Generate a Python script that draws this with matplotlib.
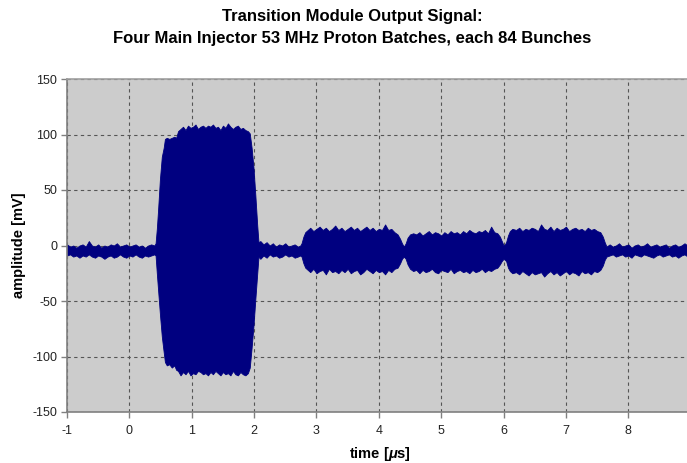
from matplotlib import pyplot as plt
import numpy as np

plt.rcParams['font.family'] = ['Liberation Sans', 'DejaVu Sans']
plt.rcParams['mathtext.fontset'] = 'custom'
plt.rcParams['mathtext.it'] = 'Liberation Sans:italic:bold'
plt.rcParams['mathtext.rm'] = 'Liberation Sans:bold'
plt.rcParams['axes.unicode_minus'] = False

# envelope of the scope trace (time in us, amplitude in mV)
# baseline before first batch
t_pre = [-1.00, -0.95, -0.90, -0.85, -0.80, -0.75, -0.70, -0.65, -0.60, -0.55, -0.50, -0.45, -0.40, -0.35,
         -0.30, -0.25, -0.20, -0.15, -0.10, -0.05, 0.00, 0.05, 0.10, 0.15, 0.20, 0.25, 0.30, 0.35, 0.40]
up_pre = [1, -1, 0, -2, 0, 1, -1, 4, 0, -1, 1, -2, 0, -1, 1, 0, 2, -1, 0, 1, -1, 0, 1, -1, 0, -2, 0, 1, 0]
lo_pre = [-9, -8, -10, -9, -11, -9, -10, -8, -10, -11, -9, -10, -12, -10, -9, -11, -10, -8, -10, -11, -9,
          -10, -8, -10, -11, -9, -10, -9, -8]

# batch 1 (large)
t_b1 = [0.42, 0.44, 0.46, 0.49, 0.52, 0.55, 0.57, 0.60, 0.64, 0.68, 0.72, 0.75, 0.78, 0.82, 0.86, 0.90,
        0.94, 0.98, 1.02, 1.06, 1.10, 1.14, 1.18, 1.22, 1.26, 1.30, 1.34, 1.38, 1.42, 1.46, 1.50, 1.54,
        1.58, 1.62, 1.66, 1.70, 1.74, 1.78, 1.82, 1.86, 1.90, 1.93, 1.96, 1.99, 2.02, 2.05, 2.07]
up_b1 = [2, 15, 32, 60, 80, 88, 96, 97, 96, 97, 98, 97, 103, 105, 107, 104, 108, 106, 107, 109, 105, 107,
         108, 106, 108, 107, 109, 106, 107, 104, 108, 106, 110, 107, 105, 107, 108, 105, 106, 104, 103, 101,
         88, 70, 45, 18, 3]
lo_b1 = [-9, -25, -40, -62, -82, -96, -105, -108, -107, -110, -108, -112, -113, -117, -114, -116, -113,
         -117, -115, -116, -113, -114, -116, -115, -117, -114, -116, -113, -115, -117, -114, -116, -115,
         -117, -113, -116, -117, -114, -116, -117, -115, -110, -92, -72, -48, -25, -10]

# baseline between batch 1 and 2
t_mid = [2.10, 2.15, 2.20, 2.25, 2.30, 2.35, 2.40, 2.45, 2.50, 2.55, 2.60, 2.65, 2.70, 2.74]
up_mid = [4, 1, 3, 0, 2, -1, 1, 0, 2, -1, 0, 1, -1, 0]
lo_mid = [-12, -9, -11, -8, -10, -9, -11, -10, -8, -10, -9, -11, -10, -9]

# batch 2
t_b2 = [2.76, 2.79, 2.82, 2.86, 2.90, 2.95, 3.00, 3.05, 3.10, 3.15, 3.20, 3.25, 3.30, 3.35, 3.40, 3.45,
        3.50, 3.55, 3.60, 3.65, 3.70, 3.75, 3.80, 3.85, 3.90, 3.95, 4.00, 4.05, 4.10, 4.15, 4.20, 4.25,
        4.30, 4.34, 4.37, 4.40]
up_b2 = [2, 8, 12, 14, 16, 13, 15, 17, 14, 16, 13, 15, 18, 14, 16, 13, 15, 17, 14, 16, 13, 15, 17, 14,
         16, 13, 15, 14, 19, 14, 15, 12, 10, 6, 2, -1]
lo_b2 = [-10, -16, -20, -22, -24, -21, -25, -23, -22, -26, -21, -24, -23, -25, -22, -24, -21, -25, -23,
         -22, -26, -24, -21, -23, -25, -22, -24, -23, -26, -22, -24, -21, -20, -16, -12, -10]

# batch 3
t_b3 = [4.43, 4.46, 4.50, 4.55, 4.60, 4.65, 4.70, 4.75, 4.80, 4.85, 4.90, 4.95, 5.00, 5.05, 5.10, 5.15,
        5.20, 5.25, 5.30, 5.35, 5.40, 5.45, 5.50, 5.55, 5.60, 5.65, 5.70, 5.75, 5.80, 5.85, 5.90, 5.94,
        5.97, 6.00, 6.02]
up_b3 = [2, 7, 10, 11, 10, 12, 9, 11, 13, 10, 12, 11, 9, 12, 10, 13, 11, 12, 10, 13, 11, 14, 12, 11, 13,
         12, 14, 11, 17, 12, 11, 8, 4, 0, 1]
lo_b3 = [-12, -17, -21, -23, -22, -25, -22, -24, -23, -21, -24, -25, -22, -23, -24, -21, -25, -23, -22,
         -24, -23, -25, -22, -24, -23, -21, -24, -22, -23, -21, -20, -17, -14, -12, -13]

# batch 4
t_b4 = [6.04, 6.07, 6.10, 6.14, 6.20, 6.25, 6.30, 6.35, 6.40, 6.45, 6.50, 6.55, 6.60, 6.65, 6.70, 6.75,
        6.80, 6.85, 6.90, 6.95, 7.00, 7.05, 7.10, 7.15, 7.20, 7.25, 7.30, 7.35, 7.40, 7.45, 7.50, 7.55,
        7.59, 7.62, 7.65]
up_b4 = [3, 9, 13, 15, 14, 16, 13, 15, 14, 16, 15, 13, 19, 15, 14, 17, 13, 16, 14, 15, 17, 13, 15, 16,
         14, 15, 13, 16, 14, 15, 13, 12, 8, 3, -1]
lo_b4 = [-14, -20, -23, -25, -24, -26, -23, -25, -27, -24, -26, -25, -24, -28, -25, -23, -26, -24, -27,
         -25, -23, -26, -24, -25, -27, -23, -25, -24, -26, -23, -24, -22, -18, -13, -10]

# baseline after last batch
t_post = [7.70, 7.75, 7.80, 7.85, 7.90, 7.95, 8.00, 8.05, 8.10, 8.15, 8.20, 8.25, 8.30, 8.35, 8.40, 8.45,
          8.50, 8.55, 8.60, 8.65, 8.70, 8.75, 8.80, 8.85, 8.90, 8.95]
up_post = [1, -1, 0, 2, -1, 0, 1, -2, 0, 1, -1, 0, 2, -1, 0, 1, -1, 0, 1, -2, 0, 1, -1, 0, 2, 0]
lo_post = [-9, -8, -10, -9, -8, -10, -9, -11, -8, -9, -10, -8, -9, -10, -11, -9, -8, -10, -9, -8, -10,
           -9, -11, -9, -8, -10]

t_us = np.array(t_pre + t_b1 + t_mid + t_b2 + t_b3 + t_b4 + t_post)
env_upper = np.array(up_pre + up_b1 + up_mid + up_b2 + up_b3 + up_b4 + up_post)
env_lower = np.array(lo_pre + lo_b1 + lo_mid + lo_b2 + lo_b3 + lo_b4 + lo_post)

x_ticks = [-1, 0, 1, 2, 3, 4, 5, 6, 7, 8]
y_ticks = [-150, -100, -50, 0, 50, 100, 150]

fig = plt.figure(figsize=(6.87, 4.63), dpi=100)
ax = fig.add_axes([67/687, 1-412/463, 620/687, 333/463])
ax.set_facecolor('#cccccc')

ax.fill_between(t_us, env_lower, env_upper, color='#000080', linewidth=0.6, edgecolor='#000080')

ax.set_xlim(-1, 8.94)
ax.set_ylim(-150, 150)
ax.set_xticks(x_ticks)
ax.set_yticks(y_ticks)
ax.grid(True, color='#555555', linestyle=(0, (3, 3)), linewidth=0.8)
ax.set_axisbelow(True)

for side in ['left', 'bottom', 'top']:
    ax.spines[side].set_color('#808080')
    ax.spines[side].set_linewidth(1.2)
ax.spines['top'].set_color('#a0a0a0')
ax.spines['right'].set_visible(False)
ax.tick_params(direction='out', length=4, width=1, color='#808080', labelsize=9, labelcolor='#222222')
ax.tick_params(axis='x', pad=5)
ax.tick_params(axis='y', pad=3)

ax.set_xlabel('time [$\\mu$s]', fontsize=10.5, fontweight='bold')
ax.xaxis.set_label_coords((380-67)/620, (412-445)/333)
ax.set_ylabel('amplitude [mV]', fontsize=10.5, fontweight='bold')
ax.yaxis.set_label_coords((26-67)/620, 0.5)

fig.text(352/687, 1-17/463, 'Transition Module Output Signal:', ha='center', va='center',
         fontsize=12, fontweight='bold')
fig.text(352/687, 1-38/463, 'Four Main Injector 53 MHz Proton Batches, each 84 Bunches', ha='center',
         va='center', fontsize=12, fontweight='bold')

plt.savefig('out.png', dpi=100)
